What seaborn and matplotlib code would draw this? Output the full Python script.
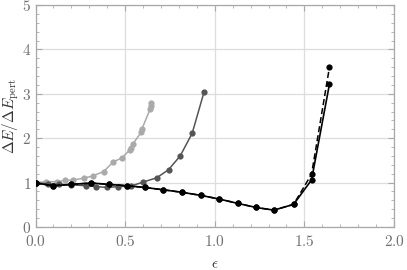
import matplotlib
matplotlib.use("Agg")
import matplotlib.pyplot as plt
import seaborn as sns
import numpy as np
from matplotlib.ticker import MultipleLocator, FuncFormatter

# ---- data ----
light_x = [0.00, 0.06, 0.12, 0.165, 0.21, 0.27, 0.32, 0.38, 0.435, 0.48, 0.528, 0.534, 0.543, 0.589, 0.593, 0.640, 0.643, 0.645]
light_y = [1.00, 1.02, 1.02, 1.05, 1.06, 1.10, 1.15, 1.25, 1.47, 1.55, 1.74, 1.79, 1.87, 2.13, 2.20, 2.66, 2.72, 2.80]

dark_x = [0.00, 0.07, 0.13, 0.20, 0.28, 0.34, 0.40, 0.46, 0.53, 0.60, 0.677, 0.742, 0.807, 0.874, 0.941]
dark_y = [1.00, 0.97, 0.96, 0.95, 0.93, 0.91, 0.89, 0.91, 0.92, 1.01, 1.11, 1.29, 1.60, 2.11, 3.05]

black_x = [0.00, 0.10, 0.20, 0.31, 0.41, 0.51, 0.61, 0.71, 0.82, 0.925, 1.025, 1.13, 1.23, 1.33, 1.44, 1.54, 1.64]
solid_y = [0.99, 0.93, 0.96, 0.99, 0.96, 0.93, 0.89, 0.84, 0.78, 0.71, 0.63, 0.53, 0.44, 0.38, 0.51, 1.06, 3.22]
dashed_y = [0.99, 0.93, 0.96, 0.99, 0.96, 0.93, 0.89, 0.84, 0.78, 0.71, 0.63, 0.53, 0.44, 0.38, 0.51, 1.19, 3.60]

xticks = [0.0, 0.5, 1.0, 1.5, 2.0]
yticks = [0, 1, 2, 3, 4, 5]

sns.set_theme(style="white")
plt.rcParams['mathtext.fontset'] = 'cm'
plt.rcParams['font.family'] = ['DejaVu Serif']

fig = plt.figure(figsize=(4.07, 2.70), dpi=100)
ax = fig.add_axes([35.5/407, 1-227/270, (394-35.5)/407, (227-5)/270])

frame_col = '#a8a8a8'
text_col = '#707070'

ax.grid(True, color='#dddddd', linewidth=0.9, zorder=0)
ax.set_axisbelow(True)

ms = 4.5
sns.lineplot(x=light_x, y=light_y, ax=ax, color='#aaaaaa', marker='o', markersize=ms,
             markeredgewidth=0, linewidth=1.1, sort=False, estimator=None, zorder=2)
sns.lineplot(x=dark_x, y=dark_y, ax=ax, color='#555555', marker='o', markersize=ms,
             markeredgewidth=0, linewidth=1.1, sort=False, estimator=None, zorder=3)
sns.lineplot(x=black_x, y=dashed_y, ax=ax, color='black', marker='o', markersize=ms,
             markeredgewidth=0, linewidth=1.1, sort=False, estimator=None, zorder=4,
             linestyle=(0, (4, 2)))
sns.lineplot(x=black_x, y=solid_y, ax=ax, color='black', marker='o', markersize=ms,
             markeredgewidth=0, linewidth=1.2, sort=False, estimator=None, zorder=5)

ax.set_xlim(0, 2.0)
ax.set_ylim(0, 5)
ax.set_xticks(xticks)
ax.set_yticks(yticks)
ax.xaxis.set_minor_locator(MultipleLocator(0.1))
ax.yaxis.set_minor_locator(MultipleLocator(0.2))
ax.xaxis.set_major_formatter(FuncFormatter(lambda v, p: r'$%.1f$' % v))
ax.yaxis.set_major_formatter(FuncFormatter(lambda v, p: r'$%d$' % round(v)))

for s in ax.spines.values():
    s.set_color(frame_col)
    s.set_linewidth(0.9)
    s.set_visible(True)

ax.tick_params(which='both', direction='in', top=True, right=True, bottom=True, left=True,
               color=frame_col, labelcolor=text_col, labelsize=11)
ax.tick_params(which='major', length=4, width=0.8)
ax.tick_params(which='minor', length=2, width=0.6)
ax.tick_params(axis='x', pad=5)
ax.tick_params(axis='y', pad=3)

ax.set_xlabel(r'$\epsilon$', color='#333333', fontsize=11, labelpad=6)
ax.set_ylabel(r'$\Delta E/\Delta E_{\rm pert}$', color='#333333', fontsize=11, labelpad=1)

fig.savefig('out.png', dpi=100)
